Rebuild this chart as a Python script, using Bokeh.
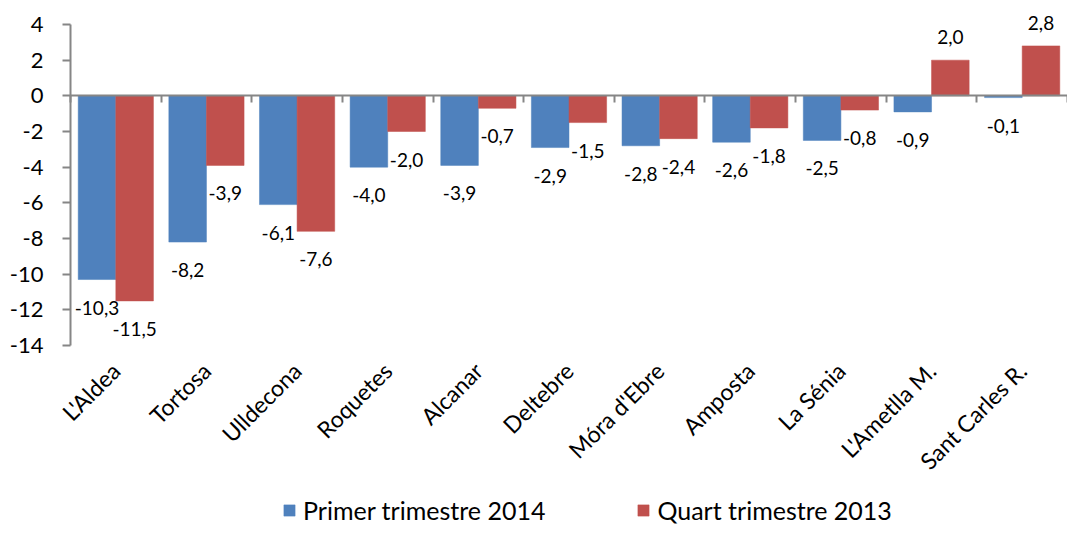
import math
from bokeh.plotting import figure
from bokeh.models import (ColumnDataSource, FixedTicker, LinearAxis, Legend,
                          LegendItem, Range1d)
from bokeh.core.properties import value
from bokeh.embed import file_html
from bokeh.resources import INLINE

categories = ["L'Aldea", "Tortosa", "Ulldecona", "Roquetes", "Alcanar", "Deltebre",
              "Móra d'Ebre", "Amposta", "La Sénia", "L'Ametlla M.", "Sant Carles R."]
primer_2014 = [-10.3, -8.2, -6.1, -4.0, -3.9, -2.9, -2.8, -2.6, -2.5, -0.9, -0.1]
quart_2013 = [-11.5, -3.9, -7.6, -2.0, -0.7, -1.5, -2.4, -1.8, -0.8, 2.0, 2.8]
y_ticks = [-14, -12, -10, -8, -6, -4, -2, 0, 2, 4]
series_names = ["Primer trimestre 2014", "Quart trimestre 2013"]
colors = ["#4F81BD", "#C0504D"]

# layout (pixels)
W, H = 1067, 525
AXIS_X_PX = 70        # where the value axis sits
TOP_PX, BOTTOM_PX = 24, 345   # pixel rows of y=4 and y=-14
FONT = "Lato"
GRAY = "#868686"
BAR_W = 0.415
Y_MIN, Y_MAX = -14, 4
n = len(categories)
centers = [i + 0.5 for i in range(n)]

# ranges so that the frame fills the whole canvas
x_scale = (W - AXIS_X_PX) / n
x0 = -AXIS_X_PX / x_scale
y_scale = (BOTTOM_PX - TOP_PX) / (Y_MAX - Y_MIN)
y_top = Y_MAX + TOP_PX / y_scale
y_bot = Y_MIN - (H - BOTTOM_PX) / y_scale


def fmt(v):
    return f"{v:.1f}".replace(".", ",")


p = figure(width=W, height=H, x_range=Range1d(x0, n), y_range=Range1d(y_bot, y_top),
           output_backend="svg", toolbar_location=None,
           x_axis_type=None, y_axis_type=None,
           min_border_left=0, min_border_right=0, min_border_top=0,
           min_border_bottom=0)
p.outline_line_color = None

renderers = []
for k, (vals, col) in enumerate(zip([primer_2014, quart_2013], colors)):
    shift = -BAR_W / 2 if k == 0 else BAR_W / 2
    src = ColumnDataSource(dict(
        x=[c + shift for c in centers],
        v=vals,
        lab=[fmt(v) for v in vals],
        yo=[28 if v < 0 else -23 for v in vals],
    ))
    r = p.vbar(x="x", top="v", bottom=0, width=BAR_W, source=src,
               fill_color=col, line_color=col, line_width=0.5)
    renderers.append(r)
    p.text(x="x", y="v", text="lab", y_offset="yo", source=src,
           text_align="center", text_baseline="middle",
           text_font=value(FONT), text_font_size="19px", text_color="#000000")

# value axis at x = 0
ya = LinearAxis(fixed_location=0, ticker=FixedTicker(ticks=y_ticks), bounds=(Y_MIN, Y_MAX))
ya.major_label_overrides = {t: str(t) for t in y_ticks}
ya.axis_line_color = GRAY
ya.axis_line_width = 2
ya.major_tick_line_color = GRAY
ya.major_tick_line_width = 2
ya.major_tick_out = 8
ya.major_tick_in = 0
ya.minor_tick_line_color = None
ya.major_label_standoff = 19
ya.major_label_text_font = FONT
ya.major_label_text_font_size = "22px"
ya.major_label_text_color = "#000000"
p.add_layout(ya, "left")

# zero line with category boundary ticks
za = LinearAxis(fixed_location=0, ticker=FixedTicker(ticks=list(range(n + 1))),
                bounds=(0, n))
za.axis_line_color = GRAY
za.axis_line_width = 2
za.major_tick_line_color = GRAY
za.major_tick_line_width = 2
za.major_tick_in = 0
za.major_tick_out = 7
za.minor_tick_line_color = None
za.major_label_text_font_size = "0px"
za.major_label_overrides = {i: "" for i in range(n + 1)}
p.add_layout(za, "below")

# category labels below the plot area
xa = LinearAxis(fixed_location=Y_MIN, ticker=FixedTicker(ticks=centers))
xa.major_label_overrides = {c: name for c, name in zip(centers, categories)}
xa.major_label_orientation = math.pi / 4
xa.axis_line_color = None
xa.major_tick_line_color = None
xa.minor_tick_line_color = None
xa.major_label_standoff = 15
xa.major_label_text_font = FONT
xa.major_label_text_font_size = "23px"
xa.major_label_text_color = "#000000"
p.add_layout(xa, "below")

legend = Legend(items=[LegendItem(label=name, renderers=[r])
                       for name, r in zip(series_names, renderers)],
                location=(282, 0), orientation="horizontal")
legend.label_text_font = FONT
legend.label_text_font_size = "25px"
legend.label_text_color = "#000000"
legend.glyph_width = 14
legend.glyph_height = 14
legend.label_standoff = 7
legend.spacing = 91
legend.padding = 0
legend.margin = 0
legend.border_line_color = None
legend.background_fill_alpha = 0
p.add_layout(legend)

open("out.html", "w").write(file_html(p, INLINE))
